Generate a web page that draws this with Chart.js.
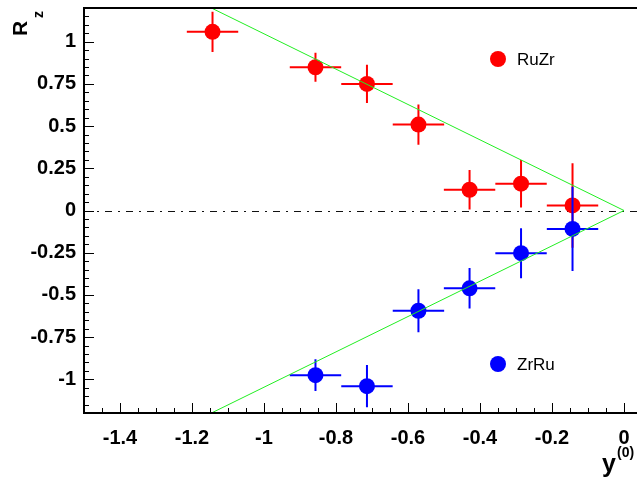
<!DOCTYPE html>
<html>
<head>
<meta charset="utf-8">
<script src="https://cdn.jsdelivr.net/npm/chart.js@4"></script>
<style>
html,body{margin:0;padding:0;background:#fff;overflow:hidden;}
#wrap{width:680px;height:479px;}
</style>
</head>
<body>
<div id="wrap"><canvas id="c" width="680" height="479"></canvas></div>
<script>
// ---- data ----
const ruzrLabel = 'RuZr';
const ruzrX = [-1.143, -0.857, -0.714, -0.571, -0.429, -0.286, -0.143];
const ruzrY = [1.059, 0.849, 0.750, 0.509, 0.123, 0.159, 0.030];
const ruzrErrX = [0.0714, 0.0714, 0.0714, 0.0714, 0.0714, 0.0714, 0.0714];
const ruzrErrY = [0.119, 0.086, 0.113, 0.119, 0.117, 0.141, 0.25];

const zrruLabel = 'ZrRu';
const zrruX = [-0.857, -0.714, -0.571, -0.429, -0.286, -0.143];
const zrruY = [-0.976, -1.041, -0.594, -0.461, -0.253, -0.109];
const zrruErrX = [0.0714, 0.0714, 0.0714, 0.0714, 0.0714, 0.0714];
const zrruErrY = [0.094, 0.125, 0.128, 0.120, 0.148, 0.25];

const guideX = [-1.146, 0, -1.146];
const guideY = [1.2, 0, -1.2];

const xTicks = [-1.4, -1.2, -1.0, -0.8, -0.6, -0.4, -0.2, 0];
const xTickLabels = ['-1.4', '-1.2', '-1', '-0.8', '-0.6', '-0.4', '-0.2', '0'];
const yTicks = [-1, -0.75, -0.5, -0.25, 0, 0.25, 0.5, 0.75, 1];
const yTickLabels = ['-1', '-0.75', '-0.5', '-0.25', '0', '0.25', '0.5', '0.75', '1'];

const xMin = -1.5, xMax = 0.1, yMin = -1.2, yMax = 1.2;
const FONT = "'Liberation Sans', Arial, Helvetica, sans-serif";

function pts(xs, ys) { return xs.map((x, i) => ({x: x, y: ys[i]})); }

const errs = [
  {x: ruzrX, y: ruzrY, ex: ruzrErrX, ey: ruzrErrY, color: '#ff0000', ds: 0},
  {x: zrruX, y: zrruY, ex: zrruErrX, ey: zrruErrY, color: '#0000ff', ds: 1}
];

const plugin = {
  id: 'rootStyle',
  beforeDatasetsDraw(chart) {
    const ctx = chart.ctx, a = chart.chartArea;
    const ys = chart.scales.y;
    const y0 = Math.round(ys.getPixelForValue(0));
    ctx.save();
    ctx.strokeStyle = '#111';
    ctx.lineWidth = 1;
    ctx.setLineDash([7, 6, 2, 6]);
    ctx.beginPath();
    ctx.moveTo(a.left, y0 + 0.5);
    ctx.lineTo(a.right, y0 + 0.5);
    ctx.stroke();
    ctx.restore();
  },
  beforeDatasetDraw(chart, args) {
    const e = errs.find(o => o.ds === args.index);
    if (!e) return;
    const ctx = chart.ctx, xs = chart.scales.x, ys = chart.scales.y;
    ctx.save();
    ctx.strokeStyle = e.color;
    ctx.lineWidth = 2;
    for (let i = 0; i < e.x.length; i++) {
      const px = xs.getPixelForValue(e.x[i]);
      const py = ys.getPixelForValue(e.y[i]);
      ctx.beginPath();
      ctx.moveTo(xs.getPixelForValue(e.x[i] - e.ex[i]), py);
      ctx.lineTo(xs.getPixelForValue(e.x[i] + e.ex[i]), py);
      ctx.moveTo(px, ys.getPixelForValue(e.y[i] + e.ey[i]));
      ctx.lineTo(px, ys.getPixelForValue(e.y[i] - e.ey[i]));
      ctx.stroke();
    }
    ctx.restore();
  },
  afterDraw(chart) {
    const ctx = chart.ctx, a = chart.chartArea;
    const xs = chart.scales.x, ys = chart.scales.y;
    ctx.save();
    // frame
    ctx.strokeStyle = '#000';
    ctx.lineWidth = 2;
    ctx.beginPath();
    ctx.moveTo(a.right + 2, a.top);
    ctx.lineTo(a.left, a.top);
    ctx.lineTo(a.left, a.bottom);
    ctx.lineTo(a.right + 2, a.bottom);
    ctx.stroke();
    // ticks
    ctx.lineWidth = 1;
    ctx.beginPath();
    for (let k = -30; k <= 2; k++) {
      const v = k * 0.05;
      if (v < xMin - 1e-9 || v > xMax + 1e-9) continue;
      const major = Math.abs(v / 0.2 - Math.round(v / 0.2)) < 1e-6;
      const px = Math.round(xs.getPixelForValue(v)) + 0.5;
      ctx.moveTo(px, a.bottom);
      ctx.lineTo(px, a.bottom - (major ? 10 : 5));
    }
    for (let k = -24; k <= 24; k++) {
      const v = k * 0.05;
      const major = Math.abs(v / 0.25 - Math.round(v / 0.25)) < 1e-6;
      const py = Math.round(ys.getPixelForValue(v)) + 0.5;
      ctx.moveTo(a.left, py);
      ctx.lineTo(a.left + (major ? 10 : 5), py);
    }
    ctx.stroke();

    // legend
    const leg = [
      {label: chart.data.datasets[0].label, color: '#ff0000', cy: 59},
      {label: chart.data.datasets[1].label, color: '#0000ff', cy: 364}
    ];
    ctx.font = '17px ' + FONT;
    ctx.textBaseline = 'alphabetic';
    ctx.textAlign = 'left';
    leg.forEach(l => {
      ctx.fillStyle = l.color;
      ctx.beginPath();
      ctx.arc(498, l.cy, 8, 0, Math.PI * 2);
      ctx.fill();
      ctx.fillStyle = '#000';
      ctx.fillText(l.label, 517, l.cy + 6);
    });

    // y title R_z
    ctx.save();
    ctx.translate(27, 36);
    ctx.rotate(-Math.PI / 2);
    ctx.fillStyle = '#000';
    ctx.font = 'bold 21px ' + FONT;
    ctx.fillText('R', 0, 0);
    ctx.font = 'bold 14px ' + FONT;
    ctx.fillText('z', 18, 16);
    ctx.restore();

    // x title y^(0)
    ctx.fillStyle = '#000';
    ctx.font = 'bold 25px ' + FONT;
    ctx.fillText('y', 602, 472);
    ctx.font = 'bold 14px ' + FONT;
    ctx.fillText('(0)', 617, 457);
    ctx.restore();
  }
};

new Chart(document.getElementById('c'), {
  type: 'scatter',
  data: {
    datasets: [
      {label: ruzrLabel, data: pts(ruzrX, ruzrY), backgroundColor: '#ff0000', borderWidth: 0,
       pointRadius: 8, pointHoverRadius: 8, order: 2},
      {label: zrruLabel, data: pts(zrruX, zrruY), backgroundColor: '#0000ff', borderWidth: 0,
       pointRadius: 8, pointHoverRadius: 8, order: 1},
      {label: 'guide', data: pts(guideX, guideY), showLine: true, borderColor: '#22ee22',
       borderWidth: 1, pointRadius: 0, fill: false, order: 0}
    ]
  },
  options: {
    responsive: false,
    animation: false,
    events: [],
    layout: {padding: {top: 8, right: 20, left: 0, bottom: 0}},
    plugins: {legend: {display: false}, tooltip: {enabled: false}},
    scales: {
      x: {
        type: 'linear', min: xMin, max: xMax,
        grid: {display: false, drawTicks: false},
        border: {display: false},
        afterBuildTicks: s => { s.ticks = xTicks.map(v => ({value: v})); },
        afterFit: s => { s.height = 66; s.paddingLeft = 0; s.paddingRight = 0; },
        ticks: {
          callback: (v, i) => xTickLabels[i],
          color: '#000', padding: 13, maxRotation: 0, autoSkip: false,
          font: {family: FONT, size: 20, weight: 'bold'}
        }
      },
      y: {
        type: 'linear', min: yMin, max: yMax,
        grid: {display: false, drawTicks: false},
        border: {display: false},
        afterBuildTicks: s => { s.ticks = yTicks.map(v => ({value: v})); },
        afterFit: s => { s.width = 84; s.paddingTop = 0; s.paddingBottom = 0; },
        ticks: {
          callback: (v, i) => yTickLabels[i],
          color: '#000', padding: 8, autoSkip: false,
          font: {family: FONT, size: 20, weight: 'bold'}
        }
      }
    }
  },
  plugins: [plugin]
});
</script>
</body>
</html>
